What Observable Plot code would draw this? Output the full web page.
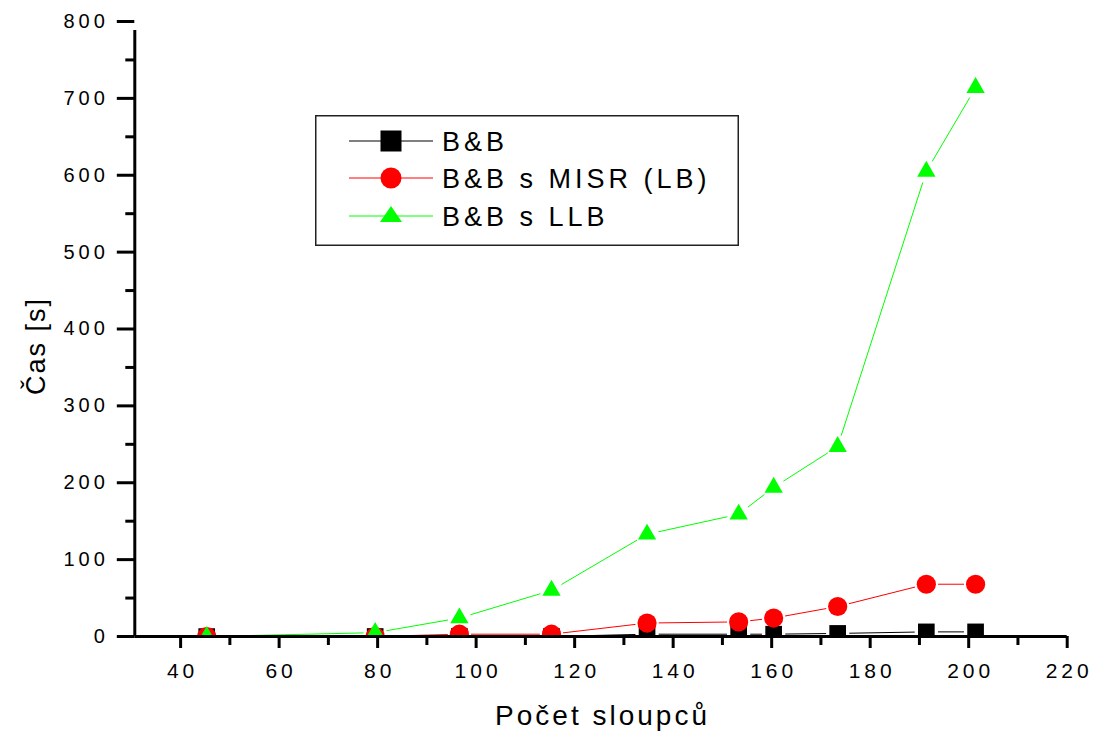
<!DOCTYPE html>
<html>
<head>
<meta charset="utf-8">
<script src="https://cdn.jsdelivr.net/npm/d3@7"></script>
<script src="https://cdn.jsdelivr.net/npm/@observablehq/plot@0.6"></script>
<style>
  html, body { margin: 0; padding: 0; background: #fff; }
  #wrap { position: relative; width: 1094px; height: 732px; overflow: hidden; }
  #legend { position: absolute; left: 315px; top: 115px; }
  text { font-family: "Liberation Sans", Arial, sans-serif; }
</style>
</head>
<body>
<div id="wrap"></div>
<script>
// ---- data ----
const xLabel = "Počet sloupců";
const yLabel = "Čas [s]";
const seriesNames = ["B&B", "B&B s MISR (LB)", "B&B s LLB"];
const xValues   = [45.3, 79.5, 96.6, 115.3, 134.7, 153.3, 160.4, 173.4, 191.4, 201.4];
const bbValues   = [0, 0, 0, 0, 3, 3, 3, 4, 6, 6];
const misrValues = [0, 0, 3, 3, 17.5, 19, 24, 39, 68, 68];
const llbValues  = [0, 5, 24, 60, 133, 159, 194, 247, 605, 714];
const xTicksMajor = [40, 60, 80, 100, 120, 140, 160, 180, 200, 220];
const xTicksMinor = [50, 70, 90, 110, 130, 150, 170, 190, 210];
const yTicksMajor = [0, 100, 200, 300, 400, 500, 600, 700, 800];
const yTicksMinor = [50, 150, 250, 350, 450, 550, 650, 750];
const xMin = 30.7, xMax = 220, yMin = 0, yMax = 800;

const series = [
  {name: seriesNames[0], values: bbValues,   color: "#000000", symbol: "square",   r: 9.4, inset: 12},
  {name: seriesNames[1], values: misrValues, color: "#ff0000", symbol: "circle",   r: 9.6, inset: 12},
  {name: seriesNames[2], values: llbValues,  color: "#00ff00", symbol: "triangle", r: 6.8, inset: 12}
];

const pointsOf = s => xValues.map((x, i) => ({x, y: s.values[i]}));
const segsOf = s => {
  const p = pointsOf(s), out = [];
  for (let i = 0; i < p.length - 1; i++) out.push({x1: p[i].x, y1: p[i].y, x2: p[i+1].x, y2: p[i+1].y});
  return out;
};

const seriesMarks = series.flatMap(s => [
  Plot.arrow(segsOf(s), {x1: "x1", y1: "y1", x2: "x2", y2: "y2", stroke: s.color, strokeWidth: 1,
    headLength: 0, insetStart: s.inset, insetEnd: s.inset}),
  Plot.dot(pointsOf(s), {x: "x", y: "y", symbol: s.symbol, r: s.r, fill: s.color, stroke: "none", clip: true})
]);

const chart = Plot.plot({
  width: 1094, height: 732,
  marginLeft: 134.3, marginRight: 27.3, marginTop: 21, marginBottom: 96,
  x: {domain: [xMin, xMax], axis: null},
  y: {domain: [yMin, yMax], axis: null},
  style: {background: "white", fontFamily: "'Liberation Sans', Arial, sans-serif", color: "black", overflow: "visible"},
  marks: [
    ...seriesMarks,
    // axis lines
    Plot.ruleX([xMin], {y1: yMin, y2: yMax, stroke: "black", strokeWidth: 3, insetBottom: -9}),
    Plot.ruleY([yMin], {x1: xMin, x2: xMax, stroke: "black", strokeWidth: 3}),
    // x ticks
    Plot.ruleX(xTicksMajor, {x: d => d, y1: yMin, y2: yMin, stroke: "black", strokeWidth: 3, insetBottom: -12}),
    Plot.ruleX(xTicksMinor, {x: d => d, y1: yMin, y2: yMin, stroke: "black", strokeWidth: 3, insetBottom: -9}),
    // y ticks
    Plot.ruleY(yTicksMajor, {y: d => d, x1: xMin, x2: xMin, stroke: "black", strokeWidth: 3, insetLeft: -17.5}),
    Plot.ruleY(yTicksMinor, {y: d => d, x1: xMin, x2: xMin, stroke: "black", strokeWidth: 3, insetLeft: -9}),
    // tick labels
    Plot.text(xTicksMajor, {x: d => d, text: d => String(d), frameAnchor: "bottom", dy: 35, dx: 2,
      lineAnchor: "middle", fontSize: 21, fill: "black"}),
    Plot.text(yTicksMajor, {y: d => d, text: d => String(d), frameAnchor: "left", dx: -26,
      textAnchor: "end", lineAnchor: "middle", fontSize: 20, fill: "black"}),
    // axis titles
    Plot.text([xLabel], {text: d => d, frameAnchor: "bottom", dy: 80, dx: 1.5, lineAnchor: "middle",
      fontSize: 28, fill: "black"}),
    Plot.text([yLabel], {text: d => d, frameAnchor: "left", dx: -98, dy: 66, rotate: -90, lineAnchor: "middle",
      fontSize: 27, fill: "black"})
  ]
});

const wrap = document.getElementById("wrap");
wrap.appendChild(chart);
// letter spacing like the original typesetting
const tickStrings = new Set([...xTicksMajor, ...yTicksMajor].map(String));
d3.select(chart).selectAll("text").each(function() {
  const t = this.textContent;
  if (tickStrings.has(t)) this.style.letterSpacing = "4px";
  else if (t === xLabel) this.style.letterSpacing = "3px";
  else if (t === yLabel) this.style.letterSpacing = "2px";
});

// ---- legend (overlay) ----
const lw = 424, lh = 131;
const leg = d3.select(wrap).append("svg").attr("id", "legend").attr("width", lw).attr("height", lh);
leg.append("rect").attr("x", 0.75).attr("y", 0.75).attr("width", lw - 1.5).attr("height", lh - 1.5)
  .attr("fill", "white").attr("stroke", "#222").attr("stroke-width", 1.5);
const rowY = [26, 63, 101];
series.forEach((s, i) => {
  const g = leg.append("g").attr("transform", `translate(0,${rowY[i]})`);
  g.append("line").attr("x1", 34).attr("x2", 118).attr("y1", 0).attr("y2", 0)
    .attr("stroke", s.color).attr("stroke-width", 1);
  if (s.symbol === "square") {
    g.append("rect").attr("x", 76 - 10.5).attr("y", -10.5).attr("width", 21).attr("height", 21).attr("fill", s.color);
  } else if (s.symbol === "circle") {
    g.append("circle").attr("cx", 76).attr("cy", 0).attr("r", 10.5).attr("fill", s.color);
  } else {
    g.append("path").attr("d", `M76,-10 L87,6 L65,6 Z`).attr("fill", s.color);
  }
  g.append("text").attr("x", 127).attr("y", 0).attr("dy", "0.36em")
    .attr("font-size", 27).style("letter-spacing", "4px").attr("fill", "black").text(s.name);
});
</script>
</body>
</html>
